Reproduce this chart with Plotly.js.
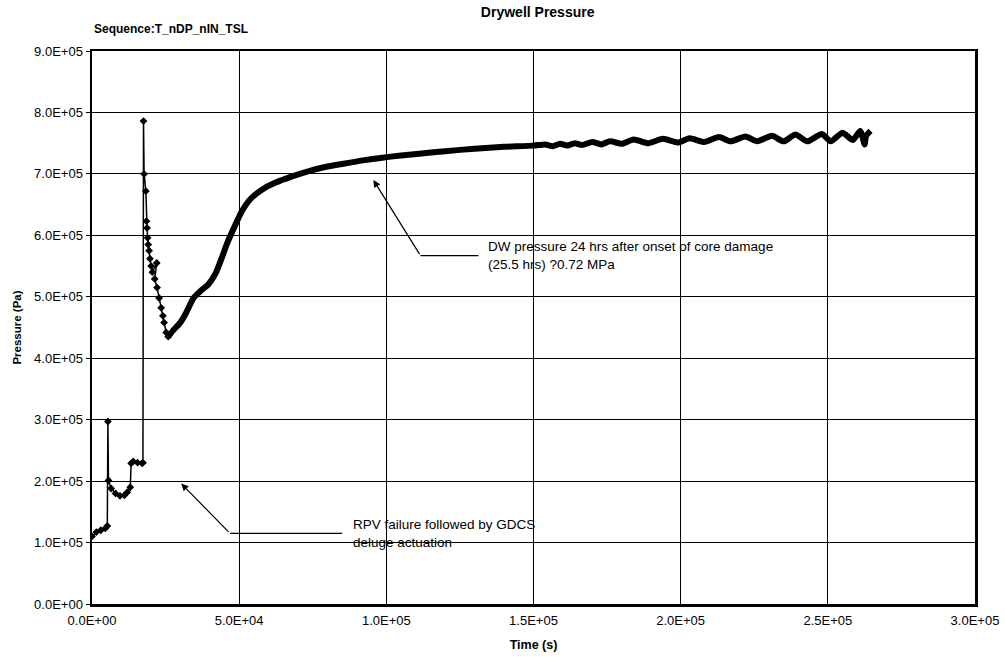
<!DOCTYPE html>
<html>
<head>
<meta charset="utf-8">
<script src="https://cdn.plot.ly/plotly-3.0.1.min.js"></script>
<style>html,body{margin:0;padding:0;background:#fff;}#chart{width:1005px;height:657px;}</style>
</head>
<body>
<div id="chart"></div>
<script>
// Early phase (distinct diamond markers)
const timeEarly = [0, 1500, 3000, 4500, 5200, 5400, 5600, 6500, 8000, 9500, 11000, 12000, 13000, 13300, 14000, 15500, 17000, 17300,
  17500, 17700, 18300, 18500, 18700, 18900, 19100, 19400, 19700, 20100, 20500, 22000, 21300, 22100, 22800, 23500, 24100, 24500, 25200, 25900];
const pressEarly = [1.10e5, 1.17e5, 1.20e5, 1.23e5, 1.27e5, 2.97e5, 2.01e5, 1.88e5, 1.80e5, 1.76e5, 1.77e5, 1.82e5, 1.90e5, 2.29e5, 2.32e5, 2.30e5, 2.29e5, 2.30e5,
  7.86e5, 7.00e5, 6.72e5, 6.23e5, 6.12e5, 5.96e5, 5.85e5, 5.75e5, 5.62e5, 5.50e5, 5.40e5, 5.55e5, 5.29e5, 5.15e5, 4.98e5, 4.82e5, 4.69e5, 4.58e5, 4.42e5, 4.35e5];

// Later phase (dense, thick trace)
const timeLate = [25900, 27500, 30000, 32000, 34500, 37000, 39500, 42000, 44000, 46000, 48500, 51000, 54000, 58000, 62000, 68000,
  74000, 80000, 86000, 92000, 98000, 105000, 112000, 120000, 130000, 140000, 150000,
  154000, 156500, 159000, 161500, 164000, 166500, 170000, 173000, 176000, 180000, 184000, 189000, 194000, 199000, 203000, 208000,
  213000, 217000, 222000, 226000, 231000, 235000, 239000, 243000, 248000, 251000, 255000, 258500, 261000, 262500, 263000, 264500];
const pressLate = [4.35e5, 4.45e5, 4.58e5, 4.74e5, 4.98e5, 5.10e5, 5.20e5, 5.38e5, 5.62e5, 5.88e5, 6.15e5, 6.40e5, 6.60e5, 6.75e5, 6.85e5, 6.96e5,
  7.05e5, 7.12e5, 7.17e5, 7.22e5, 7.26e5, 7.30e5, 7.33e5, 7.37e5, 7.41e5, 7.44e5, 7.46e5,
  7.48e5, 7.45e5, 7.49e5, 7.46e5, 7.50e5, 7.47e5, 7.52e5, 7.48e5, 7.53e5, 7.49e5, 7.56e5, 7.50e5, 7.57e5, 7.51e5, 7.58e5, 7.52e5,
  7.60e5, 7.53e5, 7.61e5, 7.53e5, 7.62e5, 7.53e5, 7.64e5, 7.53e5, 7.65e5, 7.53e5, 7.67e5, 7.55e5, 7.70e5, 7.48e5, 7.62e5, 7.70e5];

const xTickVals = [0, 50000, 100000, 150000, 200000, 250000, 300000];
const xTickText = ["0.0E+00", "5.0E+04", "1.0E+05", "1.5E+05", "2.0E+05", "2.5E+05", "3.0E+05"];
const yTickVals = [0, 1e5, 2e5, 3e5, 4e5, 5e5, 6e5, 7e5, 8e5, 9e5];
const yTickText = ["0.0E+00", "1.0E+05", "2.0E+05", "3.0E+05", "4.0E+05", "5.0E+05", "6.0E+05", "7.0E+05", "8.0E+05", "9.0E+05"];

const FONT = "Liberation Sans, Arial, sans-serif";

const traces = [
  {x: timeEarly, y: pressEarly, type: 'scatter', mode: 'lines+markers',
   line: {color: '#000', width: 1.5},
   marker: {symbol: 'diamond', size: 6, color: '#000'}, hoverinfo: 'skip'},
  {x: timeLate, y: pressLate, type: 'scatter', mode: 'lines',
   line: {color: '#000', width: 6, shape: 'spline', smoothing: 0.6}, hoverinfo: 'skip'}
];

const layout = {
  width: 1005, height: 657,
  margin: {l: 92, r: 30, t: 51, b: 53},
  paper_bgcolor: '#fff', plot_bgcolor: '#fff',
  showlegend: false,
  font: {family: FONT, color: '#000', size: 12},
  title: {text: '<b>Drywell Pressure</b>', font: {family: FONT, size: 14, color: '#000'},
          x: 0.535, xanchor: 'center', y: 0.982, yanchor: 'middle'},
  xaxis: {
    range: [0, 300000], tickvals: xTickVals, ticktext: xTickText,
    showgrid: true, gridcolor: '#000', gridwidth: 1,
    showline: true, linecolor: '#000', linewidth: 2.5, mirror: true,
    ticks: '', zeroline: false, ticklabelstandoff: 3,
    tickfont: {family: FONT, size: 13, color: '#000'},
    title: {text: '<b>Time (s)</b>', font: {family: FONT, size: 12.5, color: '#000'}, standoff: 13}
  },
  yaxis: {
    range: [0, 900000], tickvals: yTickVals, ticktext: yTickText,
    showgrid: true, gridcolor: '#000', gridwidth: 1,
    showline: true, linecolor: '#000', linewidth: 2.5, mirror: true,
    ticks: 'outside', ticklen: 4, tickcolor: '#000', zeroline: false,
    tickfont: {family: FONT, size: 13, color: '#000'},
    title: {text: '<b>Pressure (Pa)</b>', font: {family: FONT, size: 11.5, color: '#000'}, standoff: 10}
  },
  annotations: [
    {xref: 'paper', yref: 'paper', x: 0, y: 1.04, xanchor: 'left', yanchor: 'middle',
     text: '<b>Sequence:T_nDP_nIN_TSL</b>', showarrow: false, font: {family: FONT, size: 12, color: '#000'}},
    {x: 134000, y: 5.67e5, xref: 'x', yref: 'y', xanchor: 'left', yanchor: 'middle', align: 'left',
     text: 'DW pressure 24 hrs after onset of core damage<br>(25.5 hrs) ?0.72 MPa', showarrow: false,
     font: {family: FONT, size: 13.5, color: '#000'}},
    {x: 95600, y: 6.9e5, xref: 'x', yref: 'y', ax: 111600, ay: 5.67e5, axref: 'x', ayref: 'y',
     text: '', showarrow: true, arrowhead: 2, arrowsize: 1.2, arrowwidth: 1.2, arrowcolor: '#000'},
    {x: 88000, y: 1.15e5, xref: 'x', yref: 'y', xanchor: 'left', yanchor: 'middle', align: 'left',
     text: 'RPV failure followed by GDCS<br>deluge actuation', showarrow: false,
     font: {family: FONT, size: 13.5, color: '#000'}},
    {x: 30300, y: 1.96e5, xref: 'x', yref: 'y', ax: 46900, ay: 1.15e5, axref: 'x', ayref: 'y',
     text: '', showarrow: true, arrowhead: 2, arrowsize: 1.2, arrowwidth: 1.2, arrowcolor: '#000'}
  ],
  shapes: [
    {type: 'line', xref: 'x', yref: 'y', x0: 111600, x1: 131300, y0: 5.67e5, y1: 5.67e5, line: {color: '#000', width: 1.2}},
    {type: 'line', xref: 'x', yref: 'y', x0: 46900, x1: 85000, y0: 1.15e5, y1: 1.15e5, line: {color: '#000', width: 1.2}}
  ]
};

Plotly.newPlot('chart', traces, layout, {staticPlot: true, displayModeBar: false});
</script>
</body>
</html>
